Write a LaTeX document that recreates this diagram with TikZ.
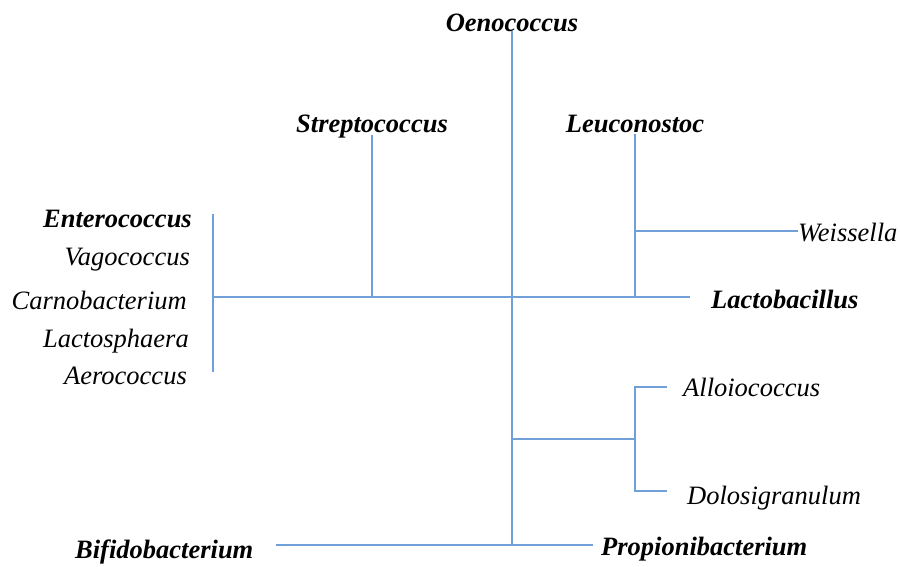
\documentclass[tikz,border=0pt]{standalone}
\usepackage{fontspec}
\setmainfont{Liberation Serif}
\definecolor{treeblue}{HTML}{6FA0D8}
\begin{document}
\begin{tikzpicture}[x=1pt,y=-1pt,
  br/.style={draw=treeblue,line width=1.3pt},
  lbl/.style={inner sep=0pt,font=\fontsize{26.5}{30}\selectfont\itshape},
  blbl/.style={inner sep=0pt,font=\fontsize{26.5}{30}\selectfont\bfseries\itshape}]
\useasboundingbox (0,0) rectangle (900,566);
% labels
\node[blbl,anchor=base] (oeno) at (512,31) {Oenococcus};
\node[blbl,anchor=base] (strep) at (372,132) {Streptococcus};
\node[blbl,anchor=base] (leuc) at (635,132) {Leuconostoc};
\node[blbl,anchor=base east] (ente) at (192,227) {Enterococcus};
\node[lbl,anchor=base east] (vago) at (190,265) {Vagococcus};
\node[lbl,anchor=base east] (carn) at (187,309) {Carnobacterium};
\node[lbl,anchor=base east] (lsph) at (189,347) {Lactosphaera};
\node[lbl,anchor=base east] (aero) at (187,384) {Aerococcus};
\node[lbl,anchor=base west] (weis) at (798,241) {Weissella};
\node[blbl,anchor=base west] (lbac) at (711,308) {Lactobacillus};
\node[lbl,anchor=base west] (allo) at (683,396) {Alloiococcus};
\node[lbl,anchor=base west] (dolo) at (687,504) {Dolosigranulum};
\node[blbl,anchor=base west] (bifi) at (75,558) {Bifidobacterium};
\node[blbl,anchor=base west] (prop) at (601,555) {Propionibacterium};
% junction coordinates
\coordinate (top) at (512,31);
\coordinate (c) at (512,297);
\coordinate (bot) at (512,545);
\coordinate (lefttop) at (213,214);
\coordinate (leftbot) at (213,372);
\coordinate (lmid) at (213,297);
\coordinate (rend) at (690,297);
\coordinate (sjoin) at (372,297);
\coordinate (stop) at (372,135);
\coordinate (ljoin) at (635,297);
\coordinate (ltop) at (635,134);
\coordinate (wjoin) at (635,231);
\coordinate (wend) at (798,231);
\coordinate (lowj) at (512,439);
\coordinate (lowk) at (635,439);
\coordinate (at) at (635,387);
\coordinate (ab) at (635,491);
\coordinate (aend) at (667,387);
\coordinate (dend) at (667,491);
\coordinate (bl) at (276,545);
\coordinate (brr) at (593,545);
% branches
\draw[br] (top) -- (bot);
\draw[br] (lmid) -- (rend);
\draw[br] (lefttop) -- (leftbot);
\draw[br] (stop) -- (sjoin);
\draw[br] (ltop) -- (ljoin);
\draw[br] (wjoin) -- (wend);
\draw[br] (lowj) -- (lowk);
\draw[br] (aend) -- (at) -- (ab) -- (dend);
\draw[br] (bl) -- (brr);
\end{tikzpicture}
\end{document}
